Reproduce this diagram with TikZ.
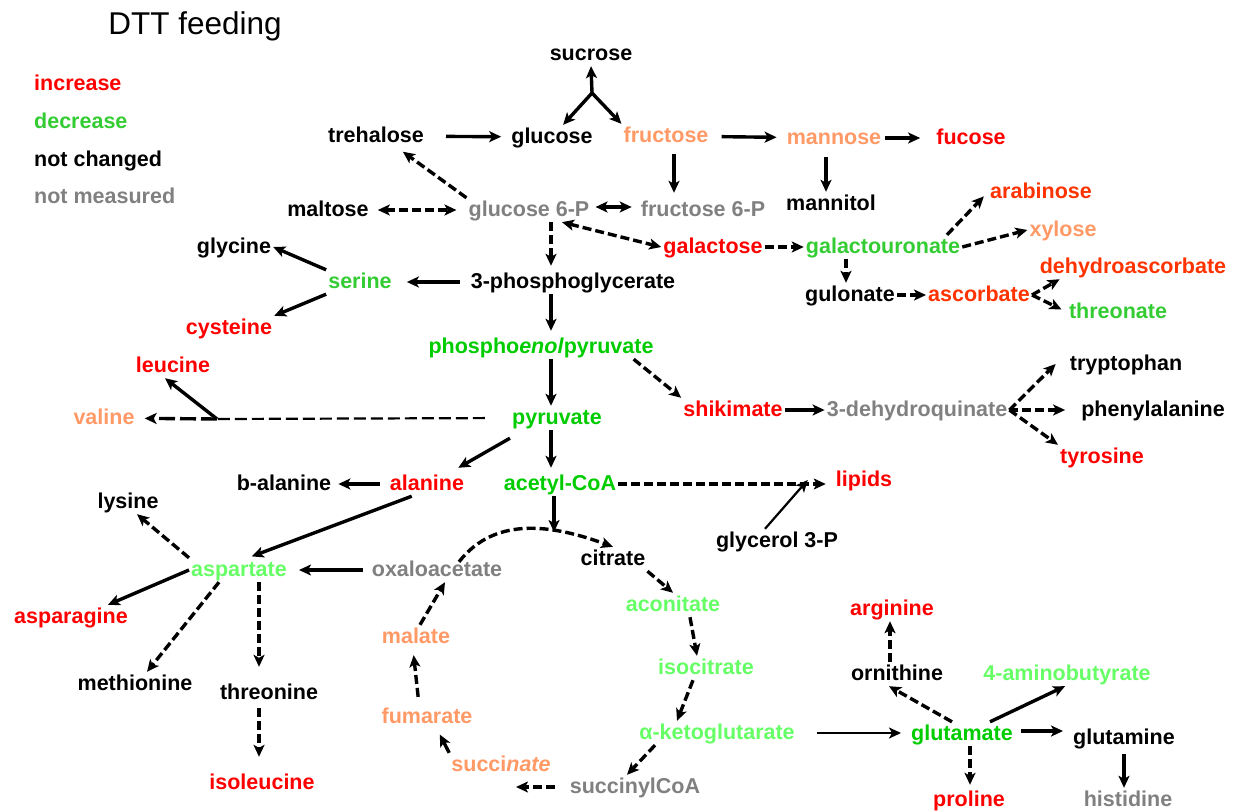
\documentclass[tikz,border=0pt]{standalone}
\usepackage{fontspec}
\setmainfont{Liberation Sans}
\usetikzlibrary{arrows.meta}

\definecolor{upred}{RGB}{255,0,0}
\definecolor{uporange}{RGB}{255,51,0}
\definecolor{upsalmon}{RGB}{255,153,102}
\definecolor{downgreen}{RGB}{0,204,0}
\definecolor{downlime}{RGB}{51,204,51}
\definecolor{downpale}{RGB}{102,255,102}
\definecolor{nomeas}{RGB}{128,128,128}

\begin{document}
\begin{tikzpicture}[x=1pt, y=-1pt,
    met/.style={font=\bfseries\fontsize{21.5}{24}\selectfont, inner sep=2pt, text height=16pt, text depth=4pt},
    key/.style={met, anchor=west},
    rx/.style={-{Stealth[length=12pt,width=11pt,inset=3pt]}, line width=3.4pt},
    rxd/.style={rx, dash pattern=on 9pt off 4pt},
    rxt/.style={rx, line width=2.2pt},
    both/.style={{Stealth[length=12pt,width=11pt,inset=3pt]}-{Stealth[length=12pt,width=11pt,inset=3pt]}}]
    \useasboundingbox (0,0) rectangle (1236,811);

    \node[font=\fontsize{31.5}{36}\selectfont] (title) at (195,26) {DTT feeding};
    \node[key, upred] (kup) at (32,84) {increase};
    \node[key, downlime] (kdown) at (32,122) {decrease};
    \node[key] (kno) at (32,160) {not changed};
    \node[key, nomeas] (kna) at (32,197) {not measured};

    % sugars
    \node[met] (sucrose) at (591,54) {sucrose};
    \node[met] (trehalose) at (376,136) {trehalose};
    \node[met] (glucose) at (552,137) {glucose};
    \node[met, upsalmon] (fructose) at (666,136) {fructose};
    \node[met, upsalmon] (mannose) at (834,138) {mannose};
    \node[met, upred] (fucose) at (971,138) {fucose};
    \node[met] (maltose) at (328,210) {maltose};
    \node[met, nomeas] (g6p) at (529,210) {glucose 6-P};
    \node[met, nomeas] (f6p) at (703,210) {fructose 6-P};
    \node[met] (mannitol) at (831,204) {mannitol};
    \node[met, upred] (galactose) at (713,247) {galactose};
    \node[met, downlime] (galur) at (883,247) {galactouronate};
    \node[met, uporange] (arabinose) at (1041,192) {arabinose};
    \node[met, upsalmon] (xylose) at (1063,230) {xylose};
    \node[met] (gulonate) at (850,295) {gulonate};
    \node[met, uporange] (ascorbate) at (979,295) {ascorbate};
    \node[met, uporange] (dha) at (1133,267) {dehydroascorbate};
    \node[met, downlime] (threonate) at (1118,312) {threonate};

    % glycolysis and amino acids
    \node[met] (glycine) at (234,247) {glycine};
    \node[met, downlime] (serine) at (360,282) {serine};
    \node[met] (pga) at (573,282) {3-phosphoglycerate};
    \node[met, upred] (cysteine) at (229,328) {cysteine};
    \node[met, downgreen] (pep) at (541,347) {phospho\textit{enol}pyruvate};
    \node[met, upred] (leucine) at (173,366) {leucine};
    \node[met, upsalmon] (valine) at (104,418) {valine};
    \node[met, downgreen] (pyruvate) at (557,418) {pyruvate};
    \node[met, upred] (shikimate) at (733,410) {shikimate};
    \node[met, nomeas] (dhq) at (917,410) {3-dehydroquinate};
    \node[met] (trp) at (1126,364) {tryptophan};
    \node[met] (phe) at (1153,410) {phenylalanine};
    \node[met, upred] (tyr) at (1102,457) {tyrosine};
    \node[met] (balanine) at (284,484) {b-alanine};
    \node[met, upred] (alanine) at (427,484) {alanine};
    \node[met, downgreen] (acoa) at (560,484) {acetyl-CoA};
    \node[met, upred] (lipids) at (864,480) {lipids};
    \node[met] (lysine) at (128,502) {lysine};
    \node[met] (g3p) at (777,541) {glycerol 3-P};
    \node[met, downpale] (aspartate) at (239,570) {aspartate};
    \node[met, upred] (asparagine) at (71,617) {asparagine};
    \node[met] (methionine) at (135,684) {methionine};
    \node[met] (threonine) at (269,693) {threonine};
    \node[met, upred] (isoleucine) at (262,783) {isoleucine};

    % TCA cycle
    \node[met, nomeas] (oaa) at (437,570) {oxaloacetate};
    \node[met] (citrate) at (613,559) {citrate};
    \node[met, downpale] (aconitate) at (673,605) {aconitate};
    \node[met, upsalmon] (malate) at (416,637) {malate};
    \node[met, downpale] (isocitrate) at (706,668) {isocitrate};
    \node[met, upsalmon] (fumarate) at (427,717) {fumarate};
    \node[met, downpale] (akg) at (717,733) {α-ketoglutarate};
    \node[met, upsalmon] (succinate) at (501,765) {succi\textit{nate}};
    \node[met, nomeas] (succoa) at (635,787) {succinylCoA};

    % glutamate family
    \node[met, upred] (arginine) at (892,609) {arginine};
    \node[met] (ornithine) at (897,674) {ornithine};
    \node[met, downpale] (gaba) at (1067,674) {4-aminobutyrate};
    \node[met, downgreen] (glutamate) at (962,734) {glutamate};
    \node[met] (glutamine) at (1124,738) {glutamine};
    \node[met, upred] (proline) at (969,800) {proline};
    \node[met, nomeas] (histidine) at (1128,800) {histidine};

    \coordinate (sj) at (592,93);
    \coordinate (bcj) at (217,419);
    \coordinate (tcatop) at (554,532);

    \draw[rx] (sj) -- (sucrose.south);
    \draw[rx] (sj) -- (glucose);
    \draw[rx] (sj) -- (fructose.north west);
    \draw[rx, shorten <=20pt, shorten >=8pt] (trehalose) -- (glucose);
    \draw[rx, shorten <=11pt, shorten >=8pt] (fructose) -- (mannose);
    \draw[rx, shorten <=2pt, shorten >=14pt] (mannose) -- (fucose);
    \draw[rx, shorten <=6pt, shorten >=5pt] ([xshift=8pt]fructose.south) -- ([xshift=8pt]fructose.south |- f6p.north);
    \draw[rx, shorten <=7pt] ([xshift=-8pt]mannose.south) -- ([xshift=-8pt]mannose.south |- mannitol.north);
    \draw[rxd, shorten >=6pt] (g6p.north west) -- ([xshift=22pt]trehalose.south);
    \draw[rxd, both, shorten <=7pt, shorten >=10pt] (maltose) -- (g6p);
    \draw[rx, both, shorten <=4pt, shorten >=7pt] ([yshift=3pt]g6p.east) -- ([yshift=3pt]g6p.east -| f6p.west);
    \draw[rxd, shorten >=4pt] ([xshift=22pt]g6p.south) -- ([xshift=22pt]g6p.south |- pga.north);
    \draw[rxd, both] ([xshift=33pt]g6p.south) -- (galactose.west);
    \draw[rxd] (galactose) -- (galur);
    \draw[rxd, shorten >=6pt] ([xshift=64pt]galur.north) -- (arabinose.west);
    \draw[rxd] (galur.east) -- (xylose.west);
    \draw[rxd] ([xshift=-37pt]galur.south) -- ([xshift=-37pt]galur.south |- gulonate.north);
    \draw[rxd] (gulonate) -- (ascorbate);
    \draw[rxd] (ascorbate.east) -- ([xshift=22pt]dha.south west);
    \draw[rxd, shorten >=6pt] (ascorbate.east) -- (threonate.west);

    \draw[rx, shorten <=9pt, shorten >=13pt] (pga) -- (serine);
    \draw[rx] (serine.north west) -- (glycine.east);
    \draw[rx] (serine.south west) -- (cysteine.north east);
    \draw[rx, shorten >=4pt] ([xshift=-22pt]pga.south) -- ([xshift=-22pt]pga.south |- pep.north);
    \draw[rx] ([xshift=10pt]pep.south) -- ([xshift=10pt]pep.south |- pyruvate.north);
    \draw[rxd] ([xshift=-22pt]pep.south east) -- (shikimate.north west);
    \draw[rx] (shikimate) -- (dhq);
    \draw[rxd] (dhq.east) -- ([xshift=-12pt]trp.west);
    \draw[rxd, shorten >=14pt] (dhq.east) -- (dhq.east -| phe.west);
    \draw[rxd] (dhq.east) -- (tyr.north west);

    \draw[line width=2.2pt, dash pattern=on 12pt off 5pt, shorten <=25pt] (pyruvate.west) -- (bcj);
    \draw[rx, dash pattern=on 16pt off 5pt, shorten >=8pt] (bcj) -- (valine);
    \draw[rx] (bcj) -- ([xshift=-8pt]leucine.south);
    \draw[rx, shorten >=4pt] ([xshift=-6pt]pyruvate.south) -- ([xshift=-6pt]pyruvate.south |- acoa.north);
    \draw[rx] ([yshift=-8pt]pyruvate.south west) -- ([xshift=-8pt,yshift=4pt]alanine.north east);
    \draw[rx, shorten <=8pt, shorten >=5pt] (alanine) -- (balanine);
    \draw[rx, shorten >=4pt] ([xshift=24pt]alanine.south west) -- ([xshift=9pt]aspartate.north);
    \draw[rxd, shorten >=8pt] (acoa.east) -- (acoa.east -| lipids.west);
    \draw[rxt] ([xshift=-12pt]g3p.north) -- ([xshift=-26pt]lipids.west);
    \draw[rx] ([xshift=-6pt]acoa.south) -- (tcatop);

    \draw[rxd] ([xshift=22pt,yshift=-4pt]oaa.north) to[out=52, in=160] (citrate.north);
    \draw[rxd] (citrate.south east) -- (aconitate.north);
    \draw[rxd] ([xshift=17pt]aconitate.south) -- ([xshift=-9pt]isocitrate.north);
    \draw[rxd] ([xshift=-13pt]isocitrate.south) -- ([xshift=-40pt]akg.north);
    \draw[rxd] ([xshift=-62pt]akg.south) -- ([xshift=-8pt]succoa.north);
    \draw[rxd, shorten <=13pt] (succoa.west) -- ([xshift=15pt]succinate.south |- succoa.west);
    \draw[rx, shorten >=6pt] (succinate.north west) -- ([xshift=10pt]fumarate.south);
    \draw[rxd, shorten <=8pt, shorten >=6pt] ([xshift=-8pt]fumarate.north) -- ([xshift=-3pt]malate.south);
    \draw[rxd] ([xshift=4pt]malate.north) -- ([xshift=8pt]oaa.south);
    \draw[rx, shorten <=7pt, shorten >=10pt] (oaa) -- (aspartate);

    \draw[rxd] (aspartate.north west) -- ([xshift=9pt]lysine.south);
    \draw[rx] (aspartate.west) -- ([xshift=-22pt]asparagine.north east);
    \draw[rxd] ([xshift=-20pt]aspartate.south) -- ([xshift=12pt]methionine.north);
    \draw[rxd, shorten >=14pt] ([xshift=20pt]aspartate.south) -- ([xshift=20pt]aspartate.south |- threonine.north);
    \draw[rxd, shorten <=3pt, shorten >=14pt] ([xshift=-10pt]threonine.south) -- ([xshift=-10pt]threonine.south |- isoleucine.north);

    \draw[rxt, shorten <=20pt, shorten >=8pt] (akg.east) -- (akg.east -| glutamate.west);
    \draw[rxd] ([xshift=-10pt]glutamate.north) -- ([xshift=-8pt]ornithine.south);
    \draw[rxd] ([xshift=-7pt]ornithine.north) -- ([xshift=-7pt]ornithine.north |- arginine.south);
    \draw[rx] ([xshift=28pt]glutamate.north) -- ([xshift=-2pt]gaba.south);
    \draw[rx, shorten <=6pt, shorten >=8pt] ([yshift=3pt]glutamate.east) -- ([yshift=3pt]glutamate.east -| glutamine.west);
    \draw[rxd, shorten >=3pt] ([xshift=8pt]glutamate.south) -- ([xshift=8pt]glutamate.south |- proline.north);
    \draw[rx, shorten <=4pt] (glutamine.south) -- (glutamine.south |- histidine.north);
\end{tikzpicture}
\end{document}
